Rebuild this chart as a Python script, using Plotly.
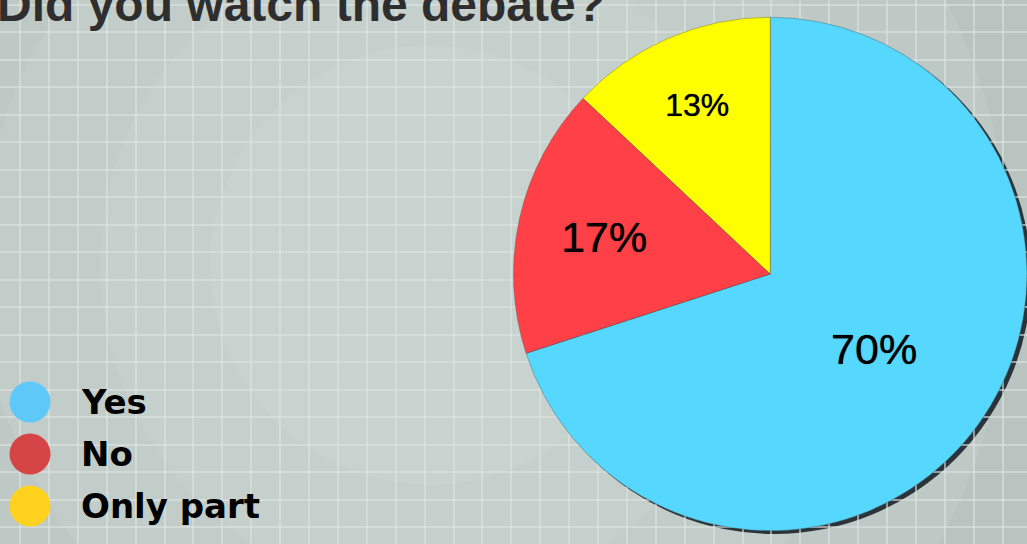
import plotly.graph_objects as go

# ---- data ----
labels = ["Yes", "No", "Only part"]
values = [70, 17, 13]
slice_colors = ["#56D7FE", "#FF4046", "#FFFF00"]
legend_colors = ["#5EC8F8", "#D64545", "#FFD21E"]
title_text = "Did you watch the debate?"

W, H = 1027, 544

fig = go.Figure()

# pie
fig.add_trace(go.Pie(
    labels=labels,
    values=values,
    sort=False,
    direction="clockwise",
    rotation=0,
    marker=dict(colors=slice_colors, line=dict(color="rgba(70,70,70,0.45)", width=0.8)),
    texttemplate="%{value}%",
    textposition="inside",
    insidetextorientation="horizontal",
    textfont=dict(family="Liberation Sans, Arial", color="black", size=[43, 43, 32],
                  shadow="0px 0px 0.8px rgba(0,0,0,0.9)"),
    domain=dict(x=[0.5, 1.0], y=[13 / 544, 527 / 544]),
    showlegend=False,
    hoverinfo="label+percent",
))

# invisible scatter to activate pixel-like axes for the background grid
fig.add_trace(go.Scatter(x=[None], y=[None], showlegend=False, hoverinfo="skip"))

shapes = []
# radial-ish background gradient (lighter toward centre)
cx, cy = 430, 265
for r in [720, 580, 450, 330, 220]:
    shapes.append(dict(type="circle", xref="x", yref="y", x0=cx - r, x1=cx + r,
                       y0=cy - r, y1=cy + r, fillcolor="rgba(212,221,217,0.19)",
                       line=dict(width=0), layer="below"))

# shadow behind the pie (lower-right rim)
shapes.append(dict(type="circle", xref="x", yref="y", x0=517, x1=1031, y0=20, y1=534,
                   fillcolor="rgba(25,35,42,0.9)", line=dict(width=0), layer="below"))

# legend circles + labels
leg_y = [402, 454, 506]
annotations = []
for lab, col, yy in zip(labels, legend_colors, leg_y):
    shapes.append(dict(type="circle", xref="x", yref="y", x0=9.5, x1=50.5,
                       y0=yy - 20.5, y1=yy + 20.5, fillcolor=col, line=dict(width=0), layer="above"))
    annotations.append(dict(x=79, y=yy, xref="x", yref="y", text=lab, showarrow=False,
                            xanchor="left", yanchor="middle",
                            font=dict(family="DejaVu Sans", size=34, color="black", weight=700)))

# title (cut off at the top, as in the original)
annotations.append(dict(x=0, y=33, xref="x", yref="y", xshift=-5, text=title_text, showarrow=False,
                        xanchor="left", yanchor="bottom",
                        font=dict(family="Liberation Sans, Arial", size=48, color="#2E2E2E", weight=700)))

fig.update_layout(
    width=W, height=H,
    margin=dict(l=0, r=0, t=0, b=0),
    paper_bgcolor="#B3BDBB",
    plot_bgcolor="#B3BDBB",
    shapes=shapes,
    annotations=annotations,
    xaxis=dict(range=[0, W], showgrid=True, tick0=20, dtick=28.9,
               gridcolor="rgba(222,229,227,0.6)", gridwidth=1.5,
               zeroline=False, showticklabels=False, ticks="", fixedrange=True),
    yaxis=dict(range=[H, 0], showgrid=True, tick0=4.8, dtick=27.5,
               gridcolor="rgba(222,229,227,0.6)", gridwidth=1.5,
               zeroline=False, showticklabels=False, ticks="", fixedrange=True),
)

fig.write_html("out.html", config={"displayModeBar": False},
               post_script="document.body.style.margin='0';document.body.style.overflow='hidden';")
